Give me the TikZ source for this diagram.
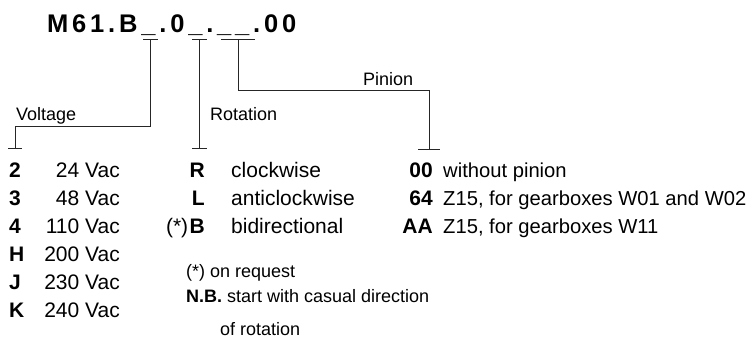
\documentclass[tikz,border=0pt]{standalone}
\usepackage{fontspec}
\setmainfont{Liberation Sans}
\usetikzlibrary{positioning}

\newcommand{\itemfont}{\fontsize{21}{24}\selectfont}
\newcommand{\gearfont}{\fontsize{20.2}{24}\selectfont}
\newcommand{\tagfont}{\fontsize{18}{21}\selectfont}
\newcommand{\titlefont}{\fontsize{25.5}{28}\selectfont\bfseries\addfontfeature{LetterSpace=15}}

\tikzset{
    code/.style={anchor=base east, inner sep=0pt, font=\itemfont\bfseries},
    desc/.style={anchor=base west, inner sep=0pt, font=\itemfont},
    tag/.style={anchor=base west, inner sep=0pt, font=\tagfont},
    link/.style={line width=1pt, black!85}
}

\begin{document}
\begin{tikzpicture}[x=1pt, y=-1pt]
    \useasboundingbox (0,0) rectangle (748,338);

    % Type code
    \node[anchor=base west, inner sep=0pt, font=\titlefont] at (47,32) (type) {M61.B\_.0\_.\_\_.00};

    % Branch points
    \coordinate (vT) at (150.5,39);
    \coordinate (vKnee) at (150.5,126);
    \coordinate (vB) at (15,148);
    \coordinate (rT) at (199.5,39);
    \coordinate (rB) at (199.5,148);
    \coordinate (pT) at (238,39);
    \coordinate (pKnee) at (238,90);
    \coordinate (pB) at (429,149);

    % Labels
    \node[tag] at (16,120) (voltage) {Voltage};
    \node[tag] at (210,120) (rotation) {Rotation};
    \node[tag] at (363,85) (pinion) {Pinion};

    % Voltage
    \node[code, anchor=base west] at (9,177) (v2) {2};
    \node[code, anchor=base west] at ([yshift=-28pt]v2.base west) (v3) {3};
    \node[code, anchor=base west] at ([yshift=-28pt]v3.base west) (v4) {4};
    \node[code, anchor=base west] at ([yshift=-28pt]v4.base west) (vH) {H};
    \node[code, anchor=base west] at ([yshift=-28pt]vH.base west) (vJ) {J};
    \node[code, anchor=base west] at ([yshift=-28pt]vJ.base west) (vK) {K};
    \node[desc, anchor=base east] at (120,177) (v2d) {24 Vac};
    \node[desc, anchor=base east] at ([yshift=-28pt]v2d.base east) (v3d) {48 Vac};
    \node[desc, anchor=base east] at ([yshift=-28pt]v3d.base east) (v4d) {110 Vac};
    \node[desc, anchor=base east] at ([yshift=-28pt]v4d.base east) (vHd) {200 Vac};
    \node[desc, anchor=base east] at ([yshift=-28pt]vHd.base east) (vJd) {230 Vac};
    \node[desc, anchor=base east] at ([yshift=-28pt]vJd.base east) (vKd) {240 Vac};

    % Rotation
    \node[code] at (205,177) (rR) {R};
    \node[code] at ([yshift=-28pt]rR.base east) (rL) {L};
    \node[code] at ([yshift=-28pt]rL.base east) (rB2) {B};
    \node[desc, anchor=base east, inner xsep=1pt] at (rB2.base west) (star) {(*)};
    \node[desc] at (231,177) (rRd) {clockwise};
    \node[desc] at ([yshift=-28pt]rRd.base west) (rLd) {anticlockwise};
    \node[desc] at ([yshift=-28pt]rLd.base west) (rBd) {bidirectional};

    % Notes
    \node[tag] at (186,277) (note1) {(*) on request};
    \node[tag] at ([yshift=-25pt]note1.base west) (note2) {\textbf{N.B.} start with casual direction};
    \node[tag] at (220,335) (note3) {of rotation};

    % Pinion
    \node[code] at (433,177) (p00) {00};
    \node[code] at ([yshift=-28pt]p00.base east) (p64) {64};
    \node[code] at ([yshift=-28pt]p64.base east) (pAA) {AA};
    \node[desc, font=\gearfont] at (443,177) (p00d) {without pinion};
    \node[desc, font=\gearfont] at ([yshift=-28pt]p00d.base west) (p64d) {Z15, for gearboxes W01 and W02};
    \node[desc, font=\gearfont] at ([yshift=-28pt]p64d.base west) (pAAd) {Z15, for gearboxes W11};

    % Connectors
    \draw[link] ([xshift=-7.5pt]vT) -- ([xshift=7.5pt]vT);
    \draw[link] (vT) -- (vKnee) -| (vB);
    \draw[link] ([xshift=-7pt]vB) -- ([xshift=7pt]vB);

    \draw[link] ([xshift=-7.5pt]rT) -- ([xshift=7.5pt]rT);
    \draw[link] (rT) -- (rB);
    \draw[link] ([xshift=-7.5pt]rB) -- ([xshift=7.5pt]rB);

    \draw[link] ([xshift=-17pt]pT) -- ([xshift=17pt]pT);
    \draw[link] (pT) -- (pKnee) -| (pB);
    \draw[link] ([xshift=-11pt]pB) -- ([xshift=11pt]pB);
\end{tikzpicture}
\end{document}
